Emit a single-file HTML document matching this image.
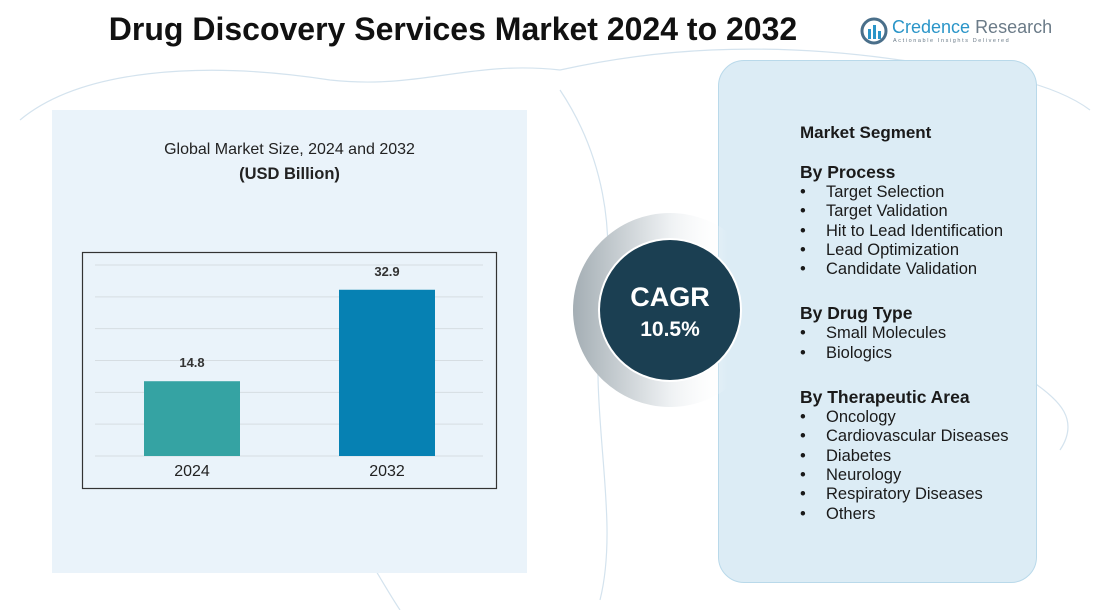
<!DOCTYPE html>
<html><head><meta charset="utf-8"><style>
body{margin:0;width:1118px;height:610px;background:#fff;font-family:"Liberation Sans",sans-serif;position:relative;overflow:hidden}
.abs{position:absolute}
.title{left:0;width:906px;top:11px;text-align:center;font-size:32px;font-weight:bold;color:#111}
.rp{left:718px;top:60px;width:317px;height:521px;border:1.5px solid #b9d9ea;border-radius:26px;background:#dcecf5}
.seg{left:800px;color:#1a1a1a}
.h{font-weight:bold;font-size:17.5px;margin:0}
.it{font-size:16.5px;line-height:19.3px;white-space:nowrap}
.it span{display:inline-block;width:26px}
</style></head><body>
<svg class="abs" style="left:0;top:0" width="1118" height="610">
<g fill="none" stroke="#d4e3ee" stroke-width="1.2">
<path d="M20,120 C80,70 200,60 330,80 C420,90 470,60 560,70 C650,50 760,40 900,60 C980,70 1050,80 1090,110"/>
<path d="M560,90 C600,150 620,230 600,320 C590,420 620,520 600,600"/>
<path d="M330,500 C360,540 380,580 400,610"/>
<path d="M1030,380 C1060,400 1080,420 1060,450"/>
</g></svg>
<div class="abs" style="left:52px;top:110px;width:475px;height:463px;background:#eaf3fa"></div>
<div class="abs title">Drug Discovery Services Market 2024 to 2032</div>
<div class="abs" style="left:860px;top:17px">
<svg width="28" height="28" class="abs" style="left:0;top:0"><circle cx="14" cy="14" r="12" fill="none" stroke="#4a6f8a" stroke-width="3"/><rect x="8" y="12" width="3" height="10" fill="#2a95c8"/><rect x="13" y="8" width="3" height="14" fill="#2a95c8"/><rect x="18" y="14" width="3" height="8" fill="#2a95c8"/></svg>
<div class="abs" style="left:32px;top:0;font-size:18px;white-space:nowrap"><span style="color:#2a95c8">Credence</span> <span style="color:#6b7b88">Research</span></div>
<div class="abs" style="left:33px;top:21px;font-size:5.5px;letter-spacing:1.6px;color:#6b7b88;white-space:nowrap">Actionable Insights Delivered</div>
</div>
<div class="abs" style="left:52px;width:475px;top:141px;text-align:center;font-size:16px;color:#222">Global Market Size, 2024 and 2032</div>
<div class="abs" style="left:52px;width:475px;top:165px;text-align:center;font-size:16.5px;font-weight:bold;color:#222">(USD Billion)</div>
<svg id="chart" class="abs" style="left:0;top:0" width="560" height="610"></svg>
<div class="abs rp"></div>
<svg class="abs" style="left:560px;top:200px" width="220" height="220">
<defs><linearGradient id="rg" x1="0" x2="1"><stop offset="0" stop-color="#a4aeb4"/><stop offset="0.5" stop-color="#eef1f3"/><stop offset="0.8" stop-color="#fff" stop-opacity="0"/></linearGradient></defs>
<circle cx="110" cy="110" r="97" fill="url(#rg)"/>
<circle cx="110" cy="110" r="72" fill="#fff"/>
<circle cx="110" cy="110" r="70" fill="#1b3f52"/>
<text x="110" y="106" text-anchor="middle" fill="#fff" font-size="27" font-weight="bold" font-family="Liberation Sans">CAGR</text>
<text x="110" y="136" text-anchor="middle" fill="#fff" font-size="21" font-weight="bold" font-family="Liberation Sans">10.5%</text>
</svg>
<div class="abs seg" style="top:123px">
<p class="h" style="font-size:17px">Market Segment</p>
<p class="h" style="margin-top:19px">By Process</p>
<div class="it"><span>•</span>Target Selection</div>
<div class="it"><span>•</span>Target Validation</div>
<div class="it"><span>•</span>Hit to Lead Identification</div>
<div class="it"><span>•</span>Lead Optimization</div>
<div class="it"><span>•</span>Candidate Validation</div>
<p class="h" style="margin-top:24px">By Drug Type</p>
<div class="it"><span>•</span>Small Molecules</div>
<div class="it"><span>•</span>Biologics</div>
<p class="h" style="margin-top:24px">By Therapeutic Area</p>
<div class="it"><span>•</span>Oncology</div>
<div class="it"><span>•</span>Cardiovascular Diseases</div>
<div class="it"><span>•</span>Diabetes</div>
<div class="it"><span>•</span>Neurology</div>
<div class="it"><span>•</span>Respiratory Diseases</div>
<div class="it"><span>•</span>Others</div>
</div>
<script>
const categories=["2024","2032"];
const values=[14.8,32.9];
const valueLabels=["14.8","32.9"];
const colors=["#35a3a3","#0681b3"];
const svg=document.getElementById('chart');
const NS="http://www.w3.org/2000/svg";
const base=456, yMax=37.8, plotH=191;
function y(v){return base-v/yMax*plotH;}
function x(i){return 144+i*195;}
const bw=96;
function mk(t,a){const e=document.createElementNS(NS,t);for(const k in a)e.setAttribute(k,a[k]);svg.appendChild(e);return e;}
const frame=mk('rect',{x:82.5,y:252.5,width:414,height:236,fill:'none',stroke:'#333','stroke-width':1.2});


for(let k=0;k<=6;k++){const gy=base-k*plotH/6;const g=mk('line',{x1:95,x2:483,y1:gy,y2:gy,stroke:'#d6dde2','stroke-width':1});

}
values.forEach((v,i)=>{
const r=mk('rect',{x:x(i),y:y(v),width:bw,height:base-y(v),fill:colors[i]});


const t=mk('text',{x:x(i)+bw/2,y:y(v)-14,'text-anchor':'middle','font-size':13,'font-weight':'bold',fill:'#333','font-family':'Liberation Sans'});
t.textContent=valueLabels[i];


const c=mk('text',{x:x(i)+bw/2,y:476,'text-anchor':'middle','font-size':16,fill:'#222','font-family':'Liberation Sans'});
c.textContent=categories[i];


});
</script>
</body></html>
